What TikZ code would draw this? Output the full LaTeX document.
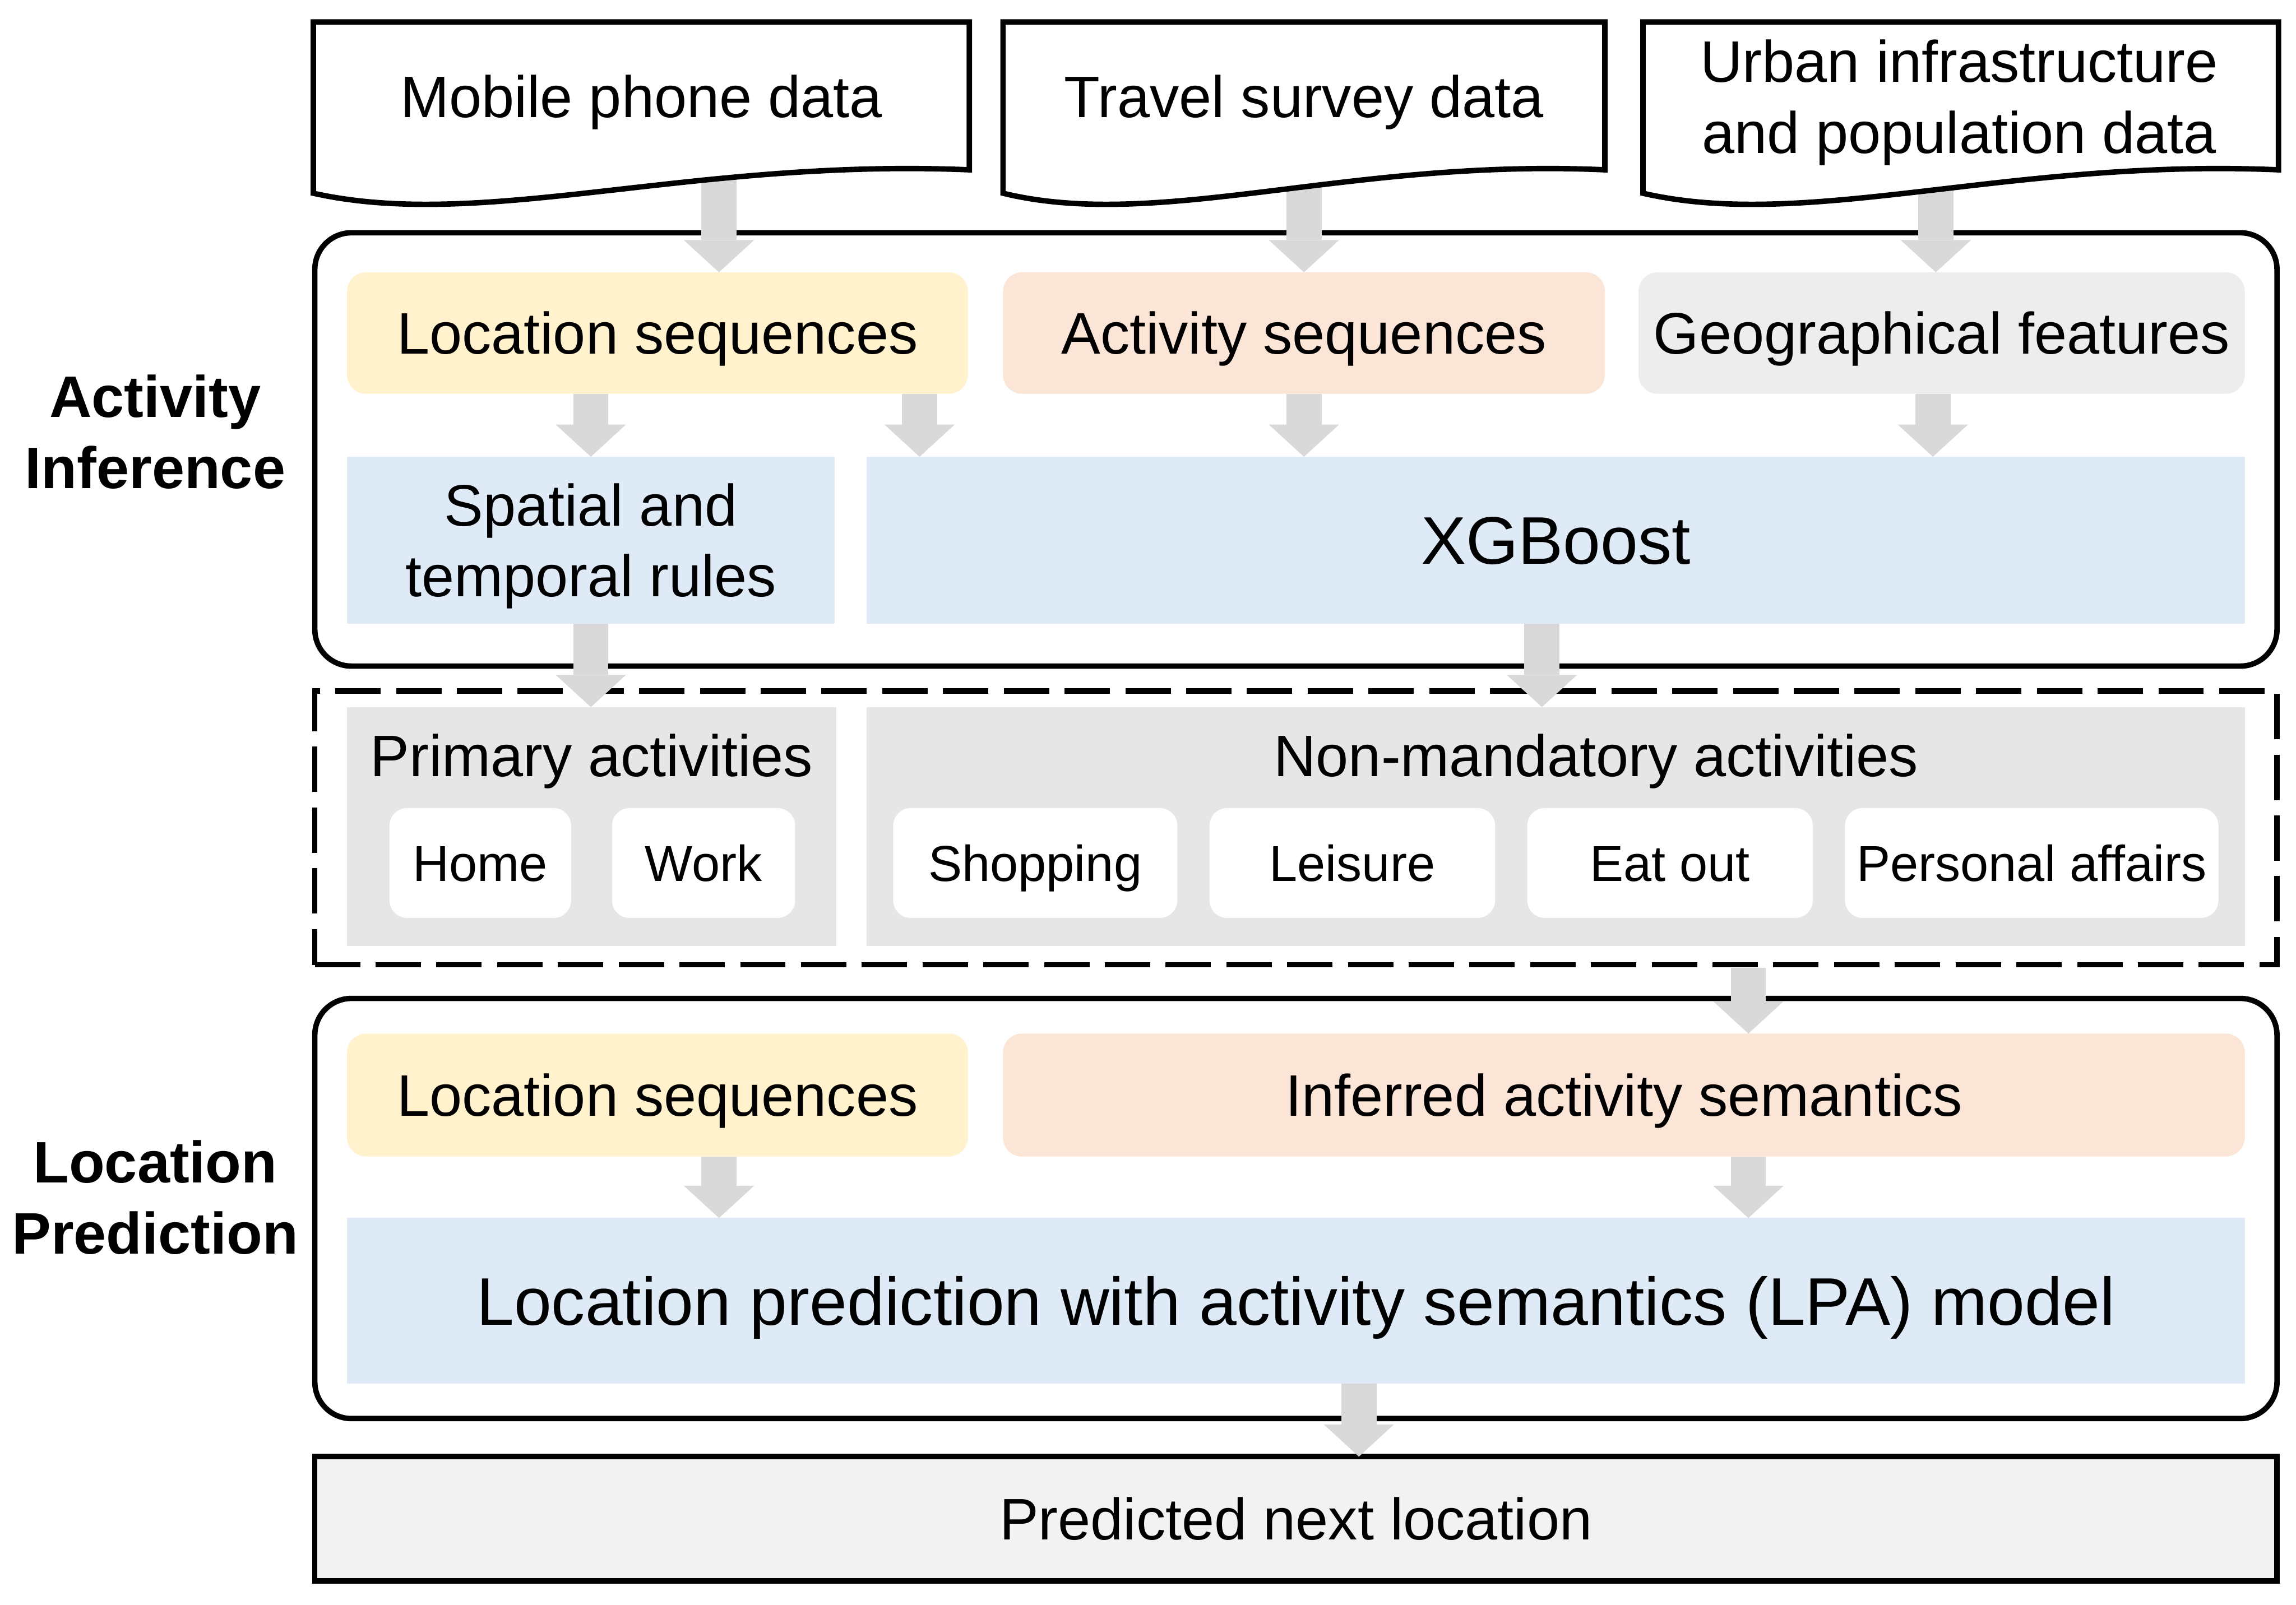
\documentclass[tikz,border=0pt]{standalone}
\usepackage{fontspec}
\setmainfont{Liberation Sans}
\usetikzlibrary{arrows.meta}
\definecolor{cyel}{HTML}{FFF2CC}
\definecolor{cpeach}{HTML}{FBE5D6}
\definecolor{cgeo}{HTML}{EDEDED}
\definecolor{cblue}{HTML}{DEEBF7}
\definecolor{cgray}{HTML}{E7E6E6}
\definecolor{cpred}{HTML}{F2F2F2}
\definecolor{carrow}{HTML}{D9D9D9}
\begin{document}
\begin{tikzpicture}[x=1pt,y=-1pt,
  boxbase/.style={inner sep=0pt,outer sep=0pt},
  frame/.style={boxbase,draw=black,line width=3.7pt},
  fillbox/.style={boxbase,draw=none},
  t40/.style={font=\fontsize{40}{48.5}\selectfont,text height=28.64pt,text depth=0pt},
  t40two/.style={font=\fontsize{40}{48.5}\selectfont,align=center,text height=77.14pt,text depth=0pt},
  t46/.style={font=\fontsize{46}{55}\selectfont,text height=32.94pt,text depth=0pt},
  t34/.style={font=\fontsize{34.5}{41}\selectfont,text height=24.7pt,text depth=0pt},
  barrow/.style={draw=carrow,line width=24pt,-{Triangle[width=48pt,length=22pt,line width=0pt]}},
  docline/.style={draw=black,fill=white,line width=3.7pt,line join=miter}
]
\useasboundingbox (0,0) rectangle (1568,1096);

% outer frames
\node[frame,rounded corners=25pt,minimum width=1340pt,minimum height=296pt] (ai) at (885,307) {};
\node[frame,dash pattern=on 31pt off 10.5pt,minimum width=1340pt,minimum height=187pt] (acts) at (885,565.5) {};
\node[frame,rounded corners=25pt,minimum width=1340pt,minimum height=287pt] (lp) at (885,825.5) {};
\node[frame,fill=cpred,minimum width=1340pt,minimum height=85pt,t40] (pred) at (885,1037.5) {Predicted next location};

% side labels
\node[t40two,font=\fontsize{40}{48.5}\selectfont\bfseries] (lab1) at (106,295) {Activity\\Inference};
\node[t40two,font=\fontsize{40}{48.5}\selectfont\bfseries] (lab2) at (106,818) {Location\\Prediction};

% activity inference contents
\node[fillbox,fill=cyel,rounded corners=13pt,minimum width=424pt,minimum height=83pt,t40] (loc1) at (449,227.5) {Location sequences};
\node[fillbox,fill=cpeach,rounded corners=13pt,minimum width=411pt,minimum height=83pt,t40] (act1) at (890.5,227.5) {Activity sequences};
\node[fillbox,fill=cgeo,rounded corners=13pt,minimum width=414pt,minimum height=83pt,t40] (geo) at (1326,227.5) {Geographical features};
\node[fillbox,fill=cblue,minimum width=333pt,minimum height=114pt,t40two] (spat) at (403.5,369) {Spatial and\\temporal rules};
\node[fillbox,fill=cblue,minimum width=941pt,minimum height=114pt,t46] (xgb) at (1062.5,369) {XGBoost};

% activities
\node[fillbox,fill=cgray,minimum width=334pt,minimum height=163pt] (prim) at (404,564.5) {};
\node[t40] (primlab) at (404,516) {Primary activities};
\node[fillbox,fill=cgray,minimum width=941pt,minimum height=163pt] (nonm) at (1062.5,564.5) {};
\node[t40] (nonmlab) at (1090,516) {Non-mandatory activities};
\node[fillbox,fill=white,rounded corners=12pt,minimum width=124pt,minimum height=75pt,t34] (home) at (328,589.5) {Home};
\node[fillbox,fill=white,rounded corners=12pt,minimum width=125pt,minimum height=75pt,t34] (work) at (480.5,589.5) {Work};
\node[fillbox,fill=white,rounded corners=12pt,minimum width=194pt,minimum height=75pt,t34] (shop) at (707,589.5) {Shopping};
\node[fillbox,fill=white,rounded corners=12pt,minimum width=195pt,minimum height=75pt,t34] (leis) at (923.5,589.5) {Leisure};
\node[fillbox,fill=white,rounded corners=12pt,minimum width=195pt,minimum height=75pt,t34] (eat) at (1140.5,589.5) {Eat out};
\node[fillbox,fill=white,rounded corners=12pt,minimum width=255pt,minimum height=75pt,t34] (pers) at (1387.5,589.5) {Personal affairs};

% location prediction contents
\node[fillbox,fill=cyel,rounded corners=13pt,minimum width=424pt,minimum height=84pt,t40] (loc2) at (449,748) {Location sequences};
\node[fillbox,fill=cpeach,rounded corners=13pt,minimum width=848pt,minimum height=84pt,t40] (inf) at (1109,748) {Inferred activity semantics};
\node[fillbox,fill=cblue,minimum width=1296pt,minimum height=113pt,t46] (lpa) at (885,888.5) {Location prediction with activity semantics (LPA) model};

% arrows
\coordinate (d1b) at (491,120);
\coordinate (d2b) at (890.5,120);
\coordinate (d3b) at (1322,122);
\coordinate (xa) at (628,0);
\coordinate (xb) at (1320,0);
\coordinate (xc) at (1053,0);
\coordinate (xd) at (1194,0);
\coordinate (xe) at (491,0);
\coordinate (xf) at (928,0);
\draw[barrow] (d1b) -- (loc1.north -| d1b);
\draw[barrow] (d2b) -- (act1.north -| d2b);
\draw[barrow] (d3b) -- (geo.north -| d3b);
\draw[barrow] (loc1.south -| spat.north) -- (spat.north);
\draw[barrow] (loc1.south -| xa) -- (xgb.north -| xa);
\draw[barrow] (act1.south) -- (act1.south |- xgb.north);
\draw[barrow] (geo.south -| xb) -- (xgb.north -| xb);
\draw[barrow] (spat.south) -- (spat.south |- prim.north);
\draw[barrow] (xgb.south -| xc) -- (nonm.north -| xc);
\draw[barrow,shorten <=2pt] (acts.south -| xd) -- (inf.north -| xd);
\draw[barrow] (loc2.south -| xe) -- (lpa.north -| xe);
\draw[barrow] (inf.south -| xd) -- (lpa.north -| xd);
\draw[barrow] (lpa.south -| xf) -- (pred.north -| xf);

% documents
\draw[docline] (214,132) -- (214,15) -- (662,15) -- (662,116) .. controls (471.6,108) and (330.5,158) .. (214,132) -- cycle;
\draw[docline] (685,132) -- (685,15) -- (1096,15) -- (1096,116) .. controls (921.3,108) and (791.9,158) .. (685,132) -- cycle;
\draw[docline] (1122,132) -- (1122,15) -- (1556,15) -- (1556,116) .. controls (1371.6,108) and (1234.8,158) .. (1122,132) -- cycle;
\node[t40] (doc1) at (438,66) {Mobile phone data};
\node[t40] (doc2) at (890.5,66) {Travel survey data};
\node[t40two] (doc3) at (1338,66) {Urban infrastructure\\and population data};
\end{tikzpicture}
\end{document}
